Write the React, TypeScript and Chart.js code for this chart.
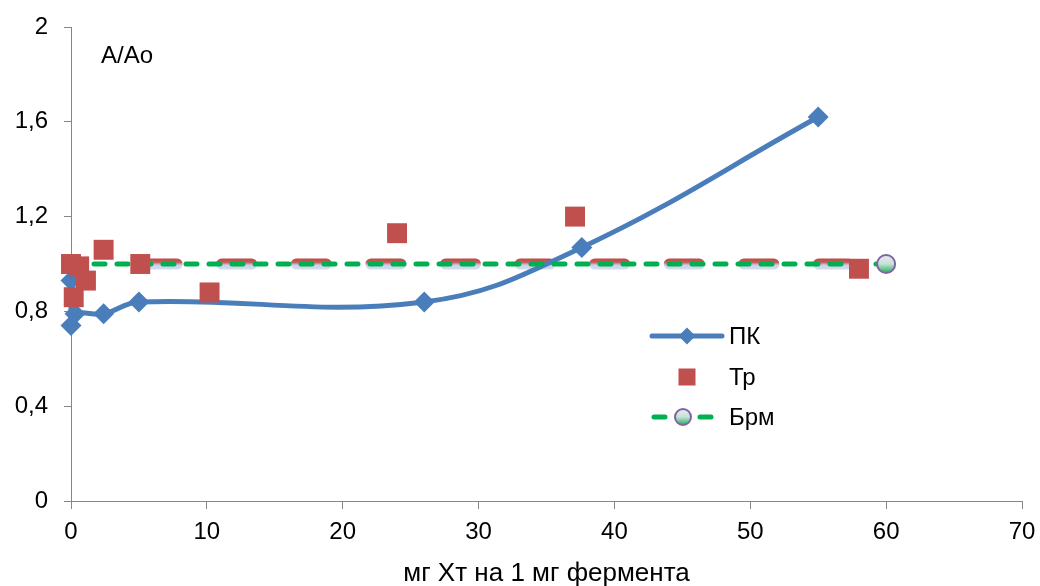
import React, { useEffect, useRef } from "react";
import { Chart, registerables } from "chart.js";

Chart.register(...registerables);

// ---- data ----
const seriesNames = ["ПК", "Тр", "Брм"];
const pkX = [0, 0, 0.3, 2.4, 5, 26, 37.6, 55];
const pkY = [0.93, 0.74, 0.79, 0.79, 0.84, 0.84, 1.07, 1.62];
const trX = [0, 0.6, 1.1, 0.2, 2.4, 5.1, 10.2, 24, 37.1, 58];
const trY = [1.0, 0.99, 0.93, 0.86, 1.06, 1.0, 0.88, 1.13, 1.2, 0.98];
const brmX = [0, 60];
const brmY = [1, 1];
const bandX = [5.6, 57.5];
const bandY = [1, 1];
const xTickValues = [0, 10, 20, 30, 40, 50, 60, 70];
const yTickValues = [0, 0.4, 0.8, 1.2, 1.6, 2];
const yAxisLabel = "A/Ao";
const xAxisTitle = "мг Хт на 1 мг фермента";

const FONT = "'Liberation Sans', Arial, sans-serif";
const BLUE = "#4A7EBB";
const RED = "#C0504D";
const GREEN = "#00B050";
const PURPLE = "#8064A2";
const AXIS = "#868686";

function circleGradient(ctx: CanvasRenderingContext2D, cy: number, r: number) {
  const g = ctx.createLinearGradient(0, cy - r, 0, cy + r);
  g.addColorStop(0, "#ECE8F4");
  g.addColorStop(0.5, "#C6E2D4");
  g.addColorStop(1, "#1FAE5C");
  return g;
}

const overlayPlugin = {
  id: "overlay",
  afterDraw(chart: any) {
    const c: CanvasRenderingContext2D = chart.ctx;
    c.save();
    c.fillStyle = "#000";
    c.textBaseline = "middle";
    c.textAlign = "left";
    c.font = `24px ${FONT}`;
    c.fillText(yAxisLabel, 101, 56);

    const lx0 = 652, lx1 = 722, mx = 687, tx = 729;
    const y1 = 336, y2 = 377, y3 = 417;
    // ПК
    c.strokeStyle = BLUE;
    c.lineWidth = 5;
    c.lineCap = "round";
    c.beginPath();
    c.moveTo(lx0, y1);
    c.lineTo(lx1, y1);
    c.stroke();
    c.fillStyle = BLUE;
    c.beginPath();
    c.moveTo(mx - 8.5, y1);
    c.lineTo(mx, y1 - 8.5);
    c.lineTo(mx + 8.5, y1);
    c.lineTo(mx, y1 + 8.5);
    c.closePath();
    c.fill();
    // Тр
    c.fillStyle = RED;
    c.fillRect(mx - 8.5, y2 - 8.5, 17, 17);
    // Брм
    c.strokeStyle = GREEN;
    c.lineWidth = 5;
    c.setLineDash([11, 12]);
    c.beginPath();
    c.moveTo(654, y3);
    c.lineTo(712, y3);
    c.stroke();
    c.setLineDash([]);
    c.fillStyle = circleGradient(c, y3, 8);
    c.strokeStyle = PURPLE;
    c.lineWidth = 2;
    c.beginPath();
    c.arc(683, y3, 8, 0, Math.PI * 2);
    c.fill();
    c.stroke();

    c.fillStyle = "#000";
    c.font = `24px ${FONT}`;
    c.fillText(seriesNames[0], tx, y1 + 1);
    c.fillText(seriesNames[1], tx, y2 + 1);
    c.fillText(seriesNames[2], tx, y3 + 1);
    c.restore();
  },
};

export default function App() {
  const ref = useRef<HTMLCanvasElement | null>(null);

  useEffect(() => {
    document.body.style.margin = "0";
    const canvas = ref.current;
    if (!canvas) return;

    const pk = pkX.map((x, i) => ({ x, y: pkY[i] }));
    const tr = trX.map((x, i) => ({ x, y: trY[i] }));
    const brm = brmX.map((x, i) => ({ x, y: brmY[i] }));
    const band = bandX.map((x, i) => ({ x, y: bandY[i] }));

    const chart = new Chart(canvas, {
      type: "scatter",
      data: {
        datasets: [
          {
            label: seriesNames[1],
            data: tr,
            showLine: false,
            pointStyle: "rect",
            pointRadius: 14.1,
            pointBackgroundColor: RED,
            pointBorderWidth: 0,
            pointBorderColor: RED,
            clip: false,
            order: 0,
          },
          {
            label: seriesNames[2],
            data: brm,
            showLine: true,
            borderColor: GREEN,
            borderWidth: 5,
            borderDash: [11, 12],
            borderCapStyle: "round",
            pointStyle: "circle",
            pointRadius: brm.map((_, i) => (i === brm.length - 1 ? 9 : 0)),
            pointBorderColor: PURPLE,
            pointBorderWidth: 2,
            pointBackgroundColor: (ctx: any) => {
              const ch = ctx.chart;
              const ys = ch.scales && ch.scales.y;
              if (!ys || ctx.dataIndex === undefined) return "#9FD8B8";
              const py = ys.getPixelForValue(brmY[ctx.dataIndex]);
              if (!isFinite(py)) return "#9FD8B8";
              return circleGradient(ch.ctx, py, 9);
            },
            clip: false,
            order: 1,
          },
          {
            label: seriesNames[0],
            data: pk,
            showLine: true,
            tension: 0.4,
            borderColor: BLUE,
            borderWidth: 5,
            borderCapStyle: "round",
            borderJoinStyle: "round",
            pointStyle: "rectRot",
            pointRadius: 10.5,
            pointBackgroundColor: BLUE,
            pointBorderWidth: 0,
            pointBorderColor: BLUE,
            clip: false,
            order: 2,
          },
          {
            label: "band",
            data: band,
            showLine: true,
            borderWidth: 11,
            borderCapStyle: "round",
            borderDash: [30, 44.6],
            borderColor: (ctx: any) => {
              const ch = ctx.chart;
              const ys = ch.scales && ch.scales.y;
              if (!ys) return RED;
              const py = ys.getPixelForValue(1);
              if (!isFinite(py)) return RED;
              const g = ch.ctx.createLinearGradient(0, py - 5.5, 0, py + 5.5);
              g.addColorStop(0, "#B94A47");
              g.addColorStop(0.35, "#C65D5A");
              g.addColorStop(0.6, "#C8D2EC");
              g.addColorStop(1, "#D4DCF0");
              return g;
            },
            pointRadius: 0,
            clip: false,
            order: 3,
          },
        ],
      },
      options: {
        animation: false,
        responsive: false,
        devicePixelRatio: 1,
        events: [],
        layout: { padding: { top: 27, right: 18, bottom: 0, left: 0 } },
        plugins: {
          legend: { display: false },
          tooltip: { enabled: false },
        },
        scales: {
          x: {
            type: "linear",
            min: 0,
            max: 70,
            afterBuildTicks: (s: any) => {
              s.ticks = xTickValues.map((v) => ({ value: v }));
            },
            afterFit: (s: any) => {
              s.height = 85;
              s.paddingRight = 0;
              s.paddingLeft = 0;
            },
            grid: {
              display: true,
              drawOnChartArea: false,
              drawTicks: true,
              tickLength: 8,
              color: AXIS,
              lineWidth: 1,
            },
            border: { display: true, color: AXIS, width: 1 },
            ticks: {
              color: "#000",
              font: { family: FONT, size: 24 },
              padding: 9,
              maxRotation: 0,
              callback: (v: any) => String(v),
            },
            title: {
              display: true,
              text: xAxisTitle,
              color: "#000",
              font: { family: FONT, size: 26 },
              padding: { top: 0, bottom: -3 },
            },
          },
          y: {
            type: "linear",
            min: 0,
            max: 2,
            afterBuildTicks: (s: any) => {
              s.ticks = yTickValues.map((v) => ({ value: v }));
            },
            afterFit: (s: any) => {
              s.width = 71;
              s.paddingTop = 0;
              s.paddingBottom = 0;
            },
            grid: {
              display: true,
              drawOnChartArea: false,
              drawTicks: true,
              tickLength: 7,
              color: AXIS,
              lineWidth: 1,
            },
            border: { display: true, color: AXIS, width: 1 },
            ticks: {
              color: "#000",
              font: { family: FONT, size: 24 },
              padding: 16,
              callback: (v: any) => String(Math.round(Number(v) * 10) / 10).replace(".", ","),
            },
          },
        },
      },
      plugins: [overlayPlugin],
    } as any);

    return () => chart.destroy();
  }, []);

  return (
    <div style={{ width: 1040, height: 586, background: "#fff" }}>
      <canvas ref={ref} width={1040} height={586} style={{ display: "block" }} />
    </div>
  );
}
